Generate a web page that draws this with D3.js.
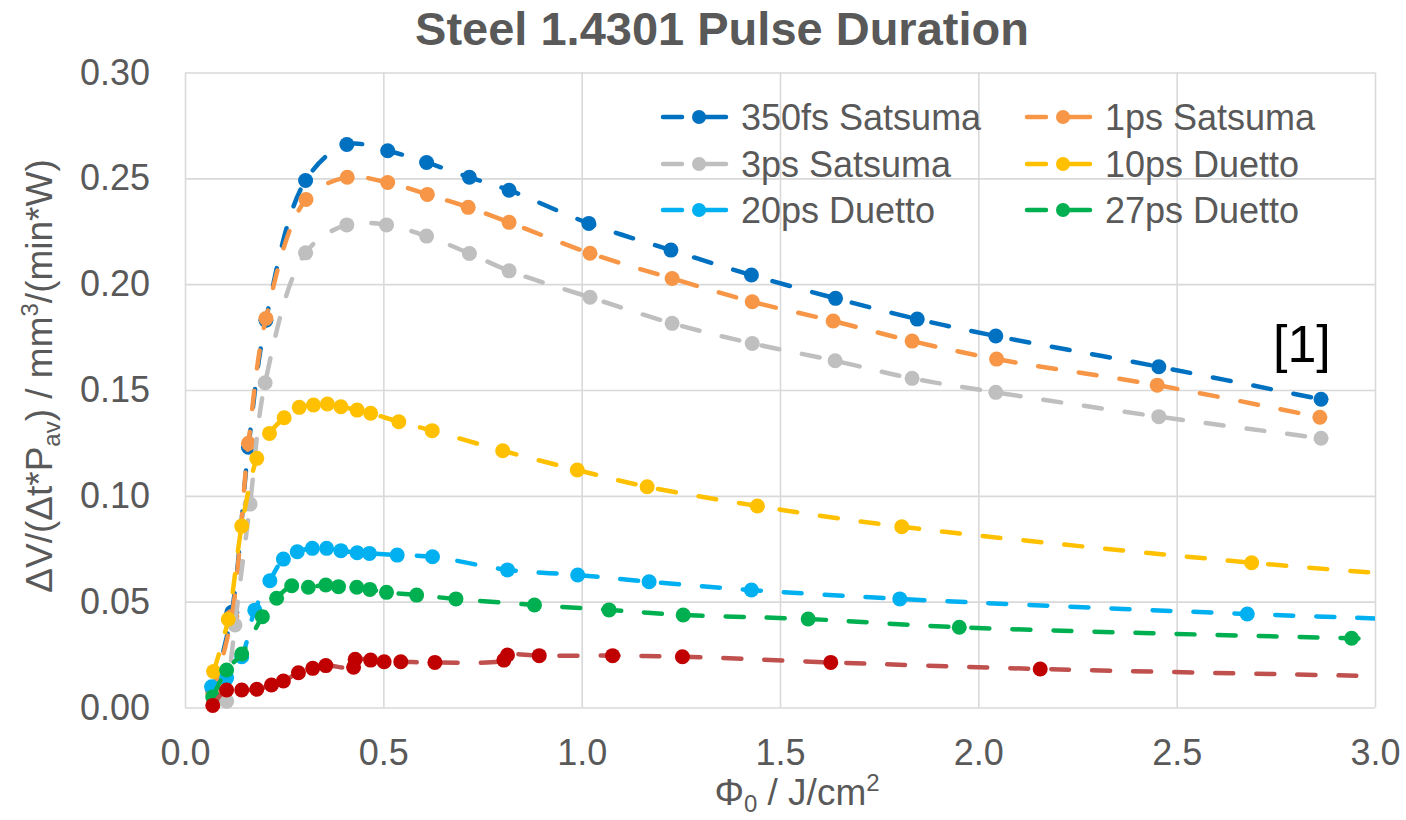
<!DOCTYPE html>
<html>
<head>
<meta charset="utf-8">
<script src="https://cdn.jsdelivr.net/npm/d3@7"></script>
<style>
body { margin: 0; background: #fff; }
text { font-family: "Liberation Sans", Arial, sans-serif; }
</style>
</head>
<body>
<svg id="canvas" width="1406" height="820"></svg>
<script>
// values: [fluence J/cm2, dV/(dt*Pav)]
const s350fs = [[0.07,0.008],[0.118,0.045],[0.16,0.123],[0.204,0.183],[0.304,0.249],[0.408,0.266],[0.511,0.263],[0.609,0.2575],[0.717,0.2505],[0.817,0.2444],[1.018,0.2287],[1.225,0.2161],[1.428,0.2043],[1.64,0.1933],[1.846,0.1835],[2.044,0.1755],[2.455,0.161],[2.864,0.1456]];
const s1ps = [[0.07,0.007],[0.118,0.043],[0.16,0.1248],[0.204,0.1838],[0.305,0.240],[0.409,0.2505],[0.511,0.248],[0.611,0.2424],[0.714,0.2363],[0.817,0.2292],[1.021,0.2146],[1.228,0.2027],[1.43,0.1917],[1.634,0.1826],[1.833,0.1731],[2.046,0.1646],[2.451,0.1523],[2.861,0.1371]];
const s3ps = [[0.105,0.003],[0.126,0.039],[0.164,0.0961],[0.202,0.1534],[0.304,0.2148],[0.408,0.228],[0.508,0.228],[0.609,0.2227],[0.717,0.2145],[0.817,0.2063],[1.021,0.1938],[1.228,0.1815],[1.43,0.172],[1.639,0.1638],[1.833,0.1555],[2.044,0.1489],[2.455,0.1374],[2.864,0.1272]];
const s10ps = [[0.072,0.017],[0.109,0.0417],[0.143,0.0857],[0.181,0.1177],[0.213,0.1295],[0.25,0.1369],[0.288,0.1418],[0.324,0.1429],[0.359,0.1434],[0.393,0.1421],[0.434,0.1405],[0.468,0.139],[0.539,0.135],[0.623,0.1308],[0.801,0.1213],[0.989,0.1122],[1.165,0.1043],[1.443,0.0952],[1.807,0.0854],[2.689,0.0684],[3.1,0.0622]];
const s20ps = [[0.067,0.0098],[0.105,0.014],[0.143,0.024],[0.176,0.046],[0.214,0.0599],[0.248,0.0701],[0.283,0.0736],[0.321,0.0752],[0.357,0.0752],[0.393,0.0741],[0.434,0.0731],[0.465,0.0728],[0.535,0.072],[0.624,0.0712],[0.813,0.065],[0.99,0.0626],[1.17,0.0594],[1.428,0.0555],[1.802,0.0513],[2.678,0.0442],[3.1,0.0415]];
const s27ps = [[0.07,0.005],[0.105,0.0177],[0.143,0.0253],[0.195,0.0429],[0.231,0.0516],[0.269,0.0575],[0.311,0.0568],[0.355,0.0579],[0.387,0.0571],[0.433,0.0568],[0.466,0.0558],[0.508,0.0544],[0.584,0.0531],[0.683,0.0513],[0.881,0.0484],[1.069,0.0461],[1.256,0.0437],[1.571,0.0418],[1.952,0.0379],[2.941,0.0327],[3.1,0.032]];
const sRef = [[0.07,0.001],[0.105,0.0083],[0.143,0.0083],[0.181,0.0086],[0.218,0.0106],[0.248,0.0125],[0.286,0.0164],[0.322,0.0185],[0.355,0.0198],[0.425,0.019],[0.429,0.0228],[0.468,0.0224],[0.502,0.0216],[0.544,0.0216],[0.63,0.0213],[0.804,0.0224],[0.813,0.0248],[0.893,0.0245],[1.078,0.0245],[1.254,0.024],[1.628,0.0213],[2.156,0.0182],[3.1,0.0145]];

const seriesNames = ['350fs Satsuma', '1ps Satsuma', '3ps Satsuma', '10ps Duetto', '20ps Duetto', '27ps Duetto'];
const seriesData = [s350fs, s1ps, s3ps, s10ps, s20ps, s27ps, sRef];
const lineColors = ['#0070C0', '#F79646', '#BFBFBF', '#FFC000', '#00B0F0', '#00B050', '#C0504D'];
const markerColors = ['#0070C0', '#F79646', '#BFBFBF', '#FFC000', '#00B0F0', '#00B050', '#C00000'];

const xTicks = [0, 0.5, 1.0, 1.5, 2.0, 2.5, 3.0];
const yTicks = [0, 0.05, 0.10, 0.15, 0.20, 0.25, 0.30];

const plotLeft = 185, plotRight = 1375, plotTop = 72.5, plotBottom = 707.5;
const textColor = '#595959';

const canvas = d3.select('#canvas');

const x = d3.scaleLinear().domain([0, 3]).range([plotLeft, plotRight]);
const y = d3.scaleLinear().domain([0, 0.3]).range([plotBottom, plotTop]);

// gridlines + tick labels
const yAxis = canvas.append('g')
    .attr('transform', `translate(${plotLeft},0)`)
    .call(d3.axisLeft(y).tickValues(yTicks).tickFormat(d3.format('.2f')).tickSize(-(plotRight - plotLeft)).tickPadding(35));
const xAxis = canvas.append('g')
    .attr('transform', `translate(0,${plotBottom})`)
    .call(d3.axisBottom(x).tickValues(xTicks).tickFormat(d3.format('.1f')).tickSize(-(plotBottom - plotTop)).tickPadding(32));

[xAxis, yAxis].forEach(ax => {
    ax.select('.domain').remove();
    ax.selectAll('line').attr('stroke', '#D9D9D9').attr('stroke-width', 1.6);
    ax.selectAll('text')
        .attr('fill', textColor)
        .attr('font-size', 36)
        .attr('font-family', '"Liberation Sans", Arial, sans-serif');
});

// title
canvas.append('text')
    .attr('x', 722)
    .attr('y', 45)
    .attr('text-anchor', 'middle')
    .attr('font-size', 47)
    .attr('font-weight', 'bold')
    .attr('fill', textColor)
    .text('Steel 1.4301 Pulse Duration');

// x axis title
const xTitle = canvas.append('text')
    .attr('x', 797)
    .attr('y', 805)
    .attr('text-anchor', 'middle')
    .attr('font-size', 37)
    .attr('fill', textColor);
xTitle.append('tspan').text('Φ');
xTitle.append('tspan').attr('font-size', 24).attr('dy', 7).text('0');
xTitle.append('tspan').attr('dy', -7).text(' / J/cm');
xTitle.append('tspan').attr('font-size', 24).attr('dy', -14).text('2');

// y axis title
const yTitle = canvas.append('text')
    .attr('transform', 'translate(52,376) rotate(-90)')
    .attr('text-anchor', 'middle')
    .attr('font-size', 37)
    .attr('fill', textColor);
yTitle.append('tspan').text('ΔV/(Δt*P');
yTitle.append('tspan').attr('font-size', 24).attr('dy', 8).text('av');
yTitle.append('tspan').attr('dy', -8).text(') / mm');
yTitle.append('tspan').attr('font-size', 24).attr('dy', -14).text('3');
yTitle.append('tspan').attr('dy', 14).text('/(min*W)');

// clip the series at the right edge of the plot
canvas.append('clipPath')
    .attr('id', 'plotClip')
    .append('rect')
    .attr('x', plotLeft - 30)
    .attr('y', 0)
    .attr('width', plotRight - plotLeft + 30)
    .attr('height', 820);

const line = d3.line()
    .x(d => x(d[0]))
    .y(d => y(d[1]))
    .curve(d3.curveCatmullRom.alpha(0.5));

const plot = canvas.append('g').attr('clip-path', 'url(#plotClip)');

seriesData.forEach((data, i) => {
    const g = plot.append('g');
    g.append('path')
        .datum(data)
        .attr('d', line)
        .attr('fill', 'none')
        .attr('stroke', lineColors[i])
        .attr('stroke-width', 4.5)
        .attr('stroke-linecap', 'round')
        .attr('stroke-dasharray', '18 23');
    g.selectAll('circle')
        .data(data)
        .enter()
        .append('circle')
        .attr('cx', d => x(d[0]))
        .attr('cy', d => y(d[1]))
        .attr('r', 7.5)
        .attr('fill', markerColors[i]);
});

// reference tag
canvas.append('text')
    .attr('x', 1273)
    .attr('y', 362)
    .attr('font-size', 52)
    .attr('fill', '#000')
    .text('[1]');

// legend, two columns
const legendCols = [663, 1027];
const legendRows = [117, 164, 210];
seriesNames.forEach((name, i) => {
    const lx = legendCols[i % 2];
    const ly = legendRows[Math.floor(i / 2)];
    const item = canvas.append('g');
    item.append('line')
        .attr('x1', lx).attr('x2', lx + 19)
        .attr('y1', ly).attr('y2', ly)
        .attr('stroke', lineColors[i])
        .attr('stroke-width', 4.5)
        .attr('stroke-linecap', 'round');
    item.append('line')
        .attr('x1', lx + 36).attr('x2', lx + 63)
        .attr('y1', ly).attr('y2', ly)
        .attr('stroke', lineColors[i])
        .attr('stroke-width', 4.5)
        .attr('stroke-linecap', 'round');
    item.append('circle')
        .attr('cx', lx + 36)
        .attr('cy', ly)
        .attr('r', 7)
        .attr('fill', markerColors[i]);
    item.append('text')
        .attr('x', lx + 78)
        .attr('y', ly)
        .attr('dy', '0.35em')
        .attr('font-size', 36)
        .attr('fill', textColor)
        .text(name);
});
</script>
</body>
</html>
